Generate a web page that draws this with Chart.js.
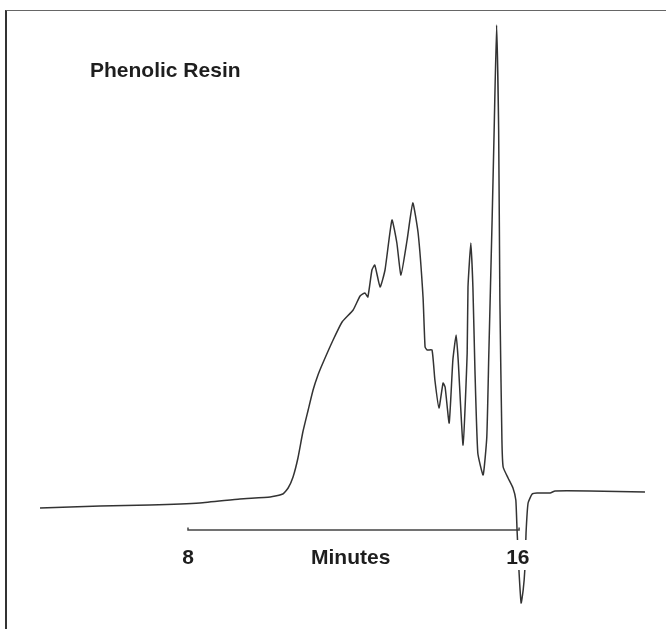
<!DOCTYPE html>
<html>
<head>
<meta charset="utf-8">
<script src="https://cdn.jsdelivr.net/npm/chart.js@4.4.1/dist/chart.umd.min.js"></script>
<style>
  html, body { margin: 0; padding: 0; background: #fff; }
  #frame {
    position: absolute; left: 5px; top: 10px; width: 661px; height: 619px;
    border-top: 1px solid #666; border-left: 2px solid #333;
  }
  #chart { position: absolute; left: 0; top: 0; }
</style>
</head>
<body>
<div id="frame"></div>
<canvas id="chart" width="666" height="629"></canvas>
<script>
// Retention time (minutes) and detector response (arbitrary units)
var minutes = [4.38, 5.85, 7.07, 8.29, 9.27, 10.01, 10.32, 10.45, 10.57, 10.69,
  10.81, 10.94, 11.06, 11.18, 11.30, 11.55, 11.77, 12.04, 12.21, 12.33,
  12.40, 12.50, 12.57, 12.70, 12.82, 12.99, 13.11, 13.21, 13.36, 13.50,
  13.63, 13.75, 13.80, 13.85, 13.97, 14.04, 14.14, 14.24, 14.29, 14.39,
  14.48, 14.56, 14.61, 14.73, 14.83, 14.85, 14.92, 14.97, 15.02, 15.09,
  15.22, 15.31, 15.36, 15.44, 15.49, 15.55, 15.60, 15.63, 15.68, 15.71,
  15.83, 15.95, 16.02, 16.05, 16.10, 16.15, 16.20, 16.24, 16.27, 16.32,
  16.42, 16.54, 16.86, 16.98, 17.83, 19.18];
var response = [4.4, 4.8, 5.0, 5.4, 6.2, 6.6, 7.2, 8.4, 10.6, 14.4,
  19.6, 24.0, 28.0, 31.0, 33.4, 38.0, 41.6, 44.0, 46.8, 47.4,
  46.6, 52.0, 53.0, 48.6, 52.0, 62.0, 57.4, 51.0, 58.0, 65.4,
  59.4, 46.6, 36.6, 36.0, 36.0, 30.0, 24.4, 29.4, 28.6, 21.4,
  34.0, 39.0, 34.0, 17.0, 35.4, 48.6, 57.4, 48.6, 32.0, 15.4,
  11.0, 18.6, 35.4, 62.0, 80.0, 101.0, 80.0, 46.0, 18.0, 12.6,
  10.4, 8.4, 6.0, 0.0, -8.6, -14.6, -12.0, -8.0, -0.6, 5.4,
  7.2, 7.4, 7.4, 7.8, 7.8, 7.6];

// Time axis bar (8 to 16 min) with its little end ticks
var axisMinutes = [8, 8, 16.1, 16.1];
var axisLevel = [0.5, 0, 0, 0.5];

var tickValues = [8, 16.07];
var tickLabels = ['8', '16'];
var axisTitle = 'Minutes';
var axisTitleAt = 11.98;
var chartTitle = 'Phenolic Resin';

function pairs(xs, ys) {
  return xs.map(function (x, i) { return { x: x, y: ys[i] }; });
}

var labelFont = 'bold 21px "Liberation Sans", Arial, sans-serif';

var textPlugin = {
  id: 'chromLabels',
  afterDatasetsDraw: function (chart) {
    var ctx = chart.ctx;
    var xs = chart.scales.x, ys = chart.scales.y;
    var yLab = ys.getPixelForValue(0) + 28;
    ctx.save();
    ctx.font = labelFont;
    ctx.textAlign = 'center';
    ctx.textBaseline = 'middle';
    tickValues.forEach(function (v, i) {
      var px = xs.getPixelForValue(v);
      var w = ctx.measureText(tickLabels[i]).width;
      ctx.fillStyle = '#fff';
      ctx.fillRect(px - w / 2 - 2, yLab - 18, w + 4, 30);
      ctx.fillStyle = '#1e1e1e';
      ctx.fillText(tickLabels[i], px, yLab);
    });
    ctx.fillText(axisTitle, xs.getPixelForValue(axisTitleAt), yLab);
    ctx.textAlign = 'left';
    ctx.textBaseline = 'alphabetic';
    ctx.fillText(chartTitle, 90, 77);
    ctx.restore();
  }
};

new Chart(document.getElementById('chart'), {
  type: 'line',
  data: {
    datasets: [{
      data: pairs(minutes, response),
      borderColor: '#333',
      borderWidth: 1.5,
      pointRadius: 0,
      tension: 0.15,
      fill: false
    }, {
      data: pairs(axisMinutes, axisLevel),
      borderColor: '#444',
      borderWidth: 1.5,
      pointRadius: 0,
      tension: 0,
      fill: false
    }]
  },
  options: {
    responsive: false,
    animation: false,
    devicePixelRatio: 1,
    layout: { padding: 0 },
    plugins: {
      legend: { display: false },
      tooltip: { enabled: false }
    },
    scales: {
      x: { type: 'linear', min: 3.401, max: 19.694, display: false },
      y: { type: 'linear', min: -19.8, max: 106, display: false }
    }
  },
  plugins: [textPlugin]
});
</script>
</body>
</html>
